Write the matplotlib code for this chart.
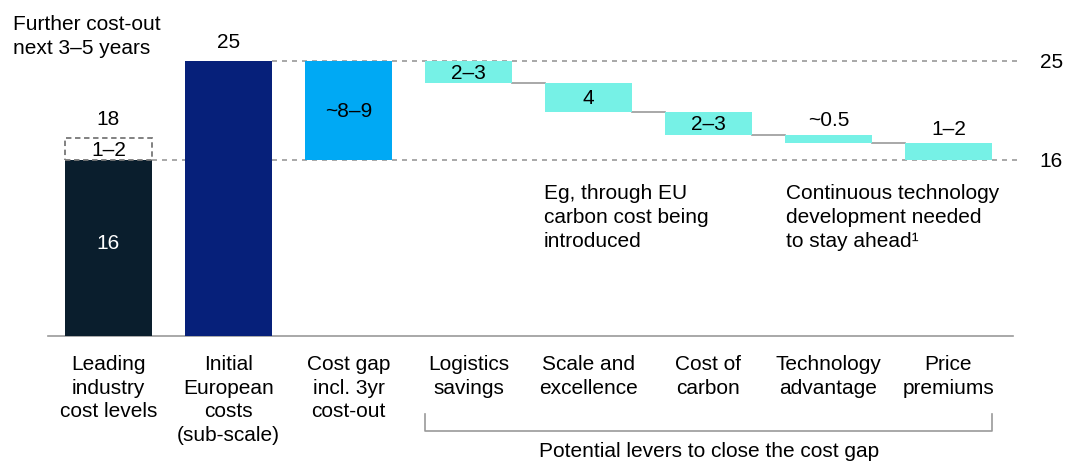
import matplotlib
matplotlib.use("Agg")
import matplotlib.pyplot as plt
import numpy as np

plt.rcParams['font.family'] = ['Liberation Sans', 'DejaVu Sans']

# ---- data ----
categories = ["Leading\nindustry\ncost levels", "Initial\nEuropean\ncosts\n(sub-scale)",
              "Cost gap\nincl. 3yr\ncost-out", "Logistics\nsavings", "Scale and\nexcellence",
              "Cost of\ncarbon", "Technology\nadvantage", "Price\npremiums"]
leading_cost = 16
leading_upper = 18
initial_cost = 25
lever_values = [2.0, 2.65, 2.05, 0.76, 1.54]
lever_labels = ["2–3", "4", "2–3", "~0.5", "1–2"]
lever_label_inside = [True, True, True, False, False]
gap_label = "~8–9"
upper_band_label = "1–2"

W, H = 1067, 464
fig = plt.figure(figsize=(W / 100, H / 100), dpi=100)
ax = fig.add_axes([0, 0, 1, 1])
ax.set_xlim(-0.904, 7.988)
ax.set_ylim(-11.55, 30.64)
ax.axis('off')

def P(x, y):
    return (x / W, 1 - y / H)

FS = 15
LS = 1.33
bw = 0.72
c_dark, c_navy, c_blue, c_cyan = "#0a1e2d", "#06207a", "#00a9f4", "#76f1e6"
grey = "#9a9a9a"

# dashed reference lines
ax.plot([0 + bw / 2, 7.6], [leading_cost] * 2, ls=(0, (3, 3)), color=grey, lw=1.2, zorder=1)
ax.plot([1 + bw / 2, 7.6], [initial_cost] * 2, ls=(0, (3, 3)), color=grey, lw=1.2, zorder=1)

# baseline
ax.plot([-0.504, 7.54], [0, 0], color=grey, lw=1.2, zorder=1)

# bars
ax.bar(0, leading_cost, width=bw, color=c_dark, zorder=2)
ax.bar(0, leading_upper - leading_cost, bottom=leading_cost, width=bw, fill=False,
       edgecolor="#777777", ls=(0, (3, 2)), lw=1.3, zorder=2)
ax.bar(1, initial_cost, width=bw, color=c_navy, zorder=2)
ax.bar(2, initial_cost - leading_cost, bottom=leading_cost, width=bw, color=c_blue, zorder=2)

tops = initial_cost - np.concatenate([[0], np.cumsum(lever_values)[:-1]])
bottoms = tops - np.array(lever_values)
xs = np.arange(3, 3 + len(lever_values))
ax.bar(xs, lever_values, bottom=bottoms, width=bw, color=c_cyan, zorder=2)

# connectors
for i in range(len(xs) - 1):
    ax.plot([xs[i] + bw / 2, xs[i + 1] - bw / 2], [bottoms[i]] * 2, color=grey, lw=1.2, zorder=1)

# value labels
ax.text(0, leading_cost / 2 + 0.5, str(leading_cost), color="white", ha='center', va='center', fontsize=FS)
ax.text(0, (leading_cost + leading_upper) / 2, upper_band_label, ha='center', va='center', fontsize=FS)
ax.text(0, leading_upper + 0.9, str(leading_upper), ha='center', va='bottom', fontsize=FS)
ax.text(1, initial_cost + 0.9, str(initial_cost), ha='center', va='bottom', fontsize=FS)
ax.text(2, (initial_cost + leading_cost) / 2, gap_label, ha='center', va='center', fontsize=FS)
for x, t, b, lab, inside in zip(xs, tops, bottoms, lever_labels, lever_label_inside):
    if inside:
        ax.text(x, (t + b) / 2, lab, ha='center', va='center', fontsize=FS)
    else:
        ax.text(x, t + 0.5, lab, ha='center', va='bottom', fontsize=FS)

# right axis labels
ax.text(7.76, initial_cost, str(initial_cost), ha='left', va='center', fontsize=FS)
ax.text(7.76, leading_cost, str(leading_cost), ha='left', va='center', fontsize=FS)

# category labels
for i, c in enumerate(categories):
    ax.text(i, -1.6, c, ha='center', va='top', fontsize=FS, linespacing=LS)

# bracket
ax.plot([3 - bw / 2, 3 - bw / 2, 7 + bw / 2, 7 + bw / 2], [-7.1, -8.65, -8.65, -7.1], color=grey, lw=1.2)
fig.text(*P(709, 452), "Potential levers to close the cost gap", ha='center', va='center', fontsize=FS)

# annotations
fig.text(*P(13, 15), "Further cost-out\nnext 3–5 years", ha='left', va='top', fontsize=FS, linespacing=LS)
fig.text(*P(544, 184), "Eg, through EU\ncarbon cost being\nintroduced", ha='left', va='top', fontsize=FS, linespacing=LS)
fig.text(*P(786, 184), "Continuous technology\ndevelopment needed\nto stay ahead¹", ha='left', va='top', fontsize=FS, linespacing=LS)

fig.savefig("out.png", dpi=100)
